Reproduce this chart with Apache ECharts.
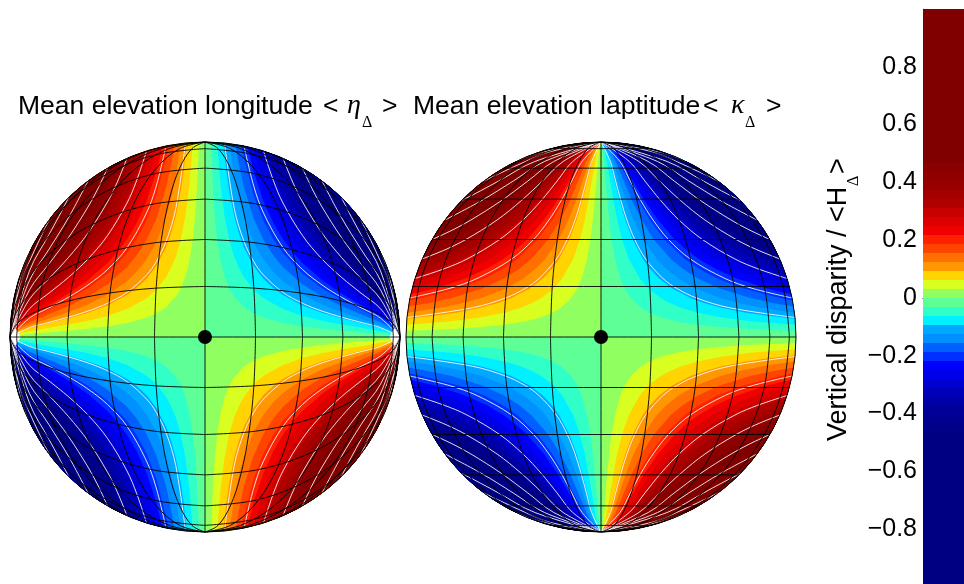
<!DOCTYPE html>
<html><head><meta charset="utf-8">
<style>html,body{margin:0;padding:0;background:#fff;overflow:hidden}#c{width:964px;height:584px}</style>
<script src="https://cdn.jsdelivr.net/npm/echarts@6/dist/echarts.min.js"></script>
</head><body><div id="c"></div>
<script>
// Colour-band edges, one quadrant of the disc, as [x, y] in disc units.
// band k starts where the field reaches k * bandStep; the first point of each edge lies on the rim.
const baseEdge = [[1,0],[0,0],[0,1]];
const edge01 = [[.9995,.03125],[.781,.04],[.624,.05],[.499,.0625],[.389,.08],[.311,.1],[.248,.125],[.206,.15],[.153,.2],[.121,.25],[.099,.3],[.072,.4],[.054,.5],[.042,.6],[.032,.7],[.023,.8],[.015,.9],[.01,.95],[0,1]];
const edge02 = [[.998,.0625],[.779,.08],[.622,.1],[.496,.125],[.412,.15],[.352,.175],[.306,.2],[.242,.25],[.199,.3],[.143,.4],[.108,.5],[.083,.6],[.064,.7],[.047,.8],[.03,.9],[.021,.95],[0,1]];
const edge03 = [[.9956,.09375],[.847,.11],[.744,.125],[.618,.15],[.528,.175],[.459,.2],[.363,.25],[.298,.3],[.251,.35],[.215,.4],[.162,.5],[.125,.6],[.096,.7],[.07,.8],[.045,.9],[.031,.95],[0,1]];
const edge04 = [[.992,.125],[.824,.15],[.704,.175],[.613,.2],[.484,.25],[.398,.3],[.335,.35],[.286,.4],[.217,.5],[.167,.6],[.128,.7],[.094,.8],[.061,.9],[.041,.95],[0,1]];
const edge05 = [[.9877,.15625],[.88,.175],[.766,.2],[.605,.25],[.497,.3],[.419,.35],[.358,.4],[.271,.5],[.208,.6],[.159,.7],[.117,.8],[.076,.9],[.051,.95],[0,1]];
const edge06 = [[.982,.1875],[.919,.2],[.726,.25],[.596,.3],[.503,.35],[.429,.4],[.325,.5],[.25,.6],[.191,.7],[.141,.8],[.091,.9],[.062,.95],[0,1]];
const edge07 = [[.976,.21875],[.847,.25],[.696,.3],[.586,.35],[.501,.4],[.434,.45],[.379,.5],[.292,.6],[.223,.7],[.164,.8],[.106,.9],[.072,.95],[0,1]];
const edge08 = [[.968,.25],[.874,.275],[.795,.3],[.67,.35],[.573,.4],[.496,.45],[.433,.5],[.333,.6],[.255,.7],[.188,.8],[.121,.9],[.082,.95],[0,1]];
const edge09 = [[.96,.28125],[.894,.3],[.754,.35],[.644,.4],[.558,.45],[.487,.5],[.375,.6],[.287,.7],[.211,.8],[.136,.9],[.093,.95],[0,1]];
const edge10 = [[.95,.3125],[.8375,.35],[.716,.4],[.62,.45],[.541,.5],[.417,.6],[.319,.7],[.234,.8],[.151,.9],[.103,.95],[0,1]];
const edge11 = [[.939,.34375],[.863,.37],[.787,.4],[.682,.45],[.595,.5],[.522,.55],[.458,.6],[.351,.7],[.258,.8],[.166,.9],[.113,.95],[0,1]];
const edge12 = [[.927,.375],[.859,.4],[.744,.45],[.65,.5],[.569,.55],[.5,.6],[.383,.7],[.281,.8],[.182,.9],[.123,.95],[0,1]];
const edge13 = [[.914,.40625],[.806,.45],[.704,.5],[.617,.55],[.542,.6],[.414,.7],[.305,.8],[.197,.9],[.134,.95],[0,1]];
const edge14 = [[.899,.4375],[.822,.47],[.758,.5],[.664,.55],[.583,.6],[.511,.65],[.446,.7],[.328,.8],[.212,.9],[.144,.95],[0,1]];
const edge15 = [[.883,.46875],[.812,.5],[.712,.55],[.625,.6],[.548,.65],[.478,.7],[.352,.8],[.227,.9],[.154,.95],[0,1]];
const bandEdges = [baseEdge,edge01,edge02,edge03,edge04,edge05,edge06,edge07,edge08,edge09,edge10,edge11,edge12,edge13,edge14,edge15];
// White contour lines (levels 0.1 to 0.9), one quadrant, as [x, y] in disc units.
const contour10 = [[.995,.1],[.659,.15],[.49,.2],[.387,.25],[.318,.3],[.229,.4],[.173,.5],[.133,.6],[.102,.7],[.075,.8],[.048,.9],[0,1]];
const contour20 = [[.98,.2],[.774,.25],[.636,.3],[.458,.4],[.346,.5],[.267,.6],[.204,.7],[.15,.8],[.097,.9],[0,1]];
const contour30 = [[.954,.3],[.804,.35],[.687,.4],[.52,.5],[.4,.6],[.306,.7],[.225,.8],[.145,.9],[0,1]];
const contour40 = [[.917,.4],[.794,.45],[.693,.5],[.533,.6],[.408,.7],[.3,.8],[.194,.9],[0,1]];
const contour50 = [[.866,.5],[.759,.55],[.667,.6],[.51,.7],[.375,.8],[.242,.9],[0,1]];
const contour60 = [[.8,.6],[.612,.7],[.45,.8],[.29,.9],[0,1]];
const contour70 = [[.714,.7],[.617,.75],[.525,.8],[.339,.9],[0,1]];
const contour80 = [[.6,.8],[.496,.85],[.387,.9],[.263,.95],[0,1]];
const contour90 = [[.436,.9],[.296,.95],[0,1]];
const contours = [contour10,contour20,contour30,contour40,contour50,contour60,contour70,contour80,contour90];
// Black graticule, one quadrant, as [x, y] in disc units.
const meridian15 = [[.259,0],[.25,.259],[.224,.5],[.183,.707],[.13,.866],[.067,.966],[0,1]];
const meridian30 = [[.5,0],[.483,.259],[.433,.5],[.354,.707],[.25,.866],[.13,.966],[0,1]];
const meridian45 = [[.707,0],[.683,.259],[.612,.5],[.5,.707],[.354,.866],[.183,.966],[0,1]];
const meridian60 = [[.866,0],[.837,.259],[.75,.5],[.612,.707],[.433,.866],[.224,.966],[0,1]];
const meridian75 = [[.966,0],[.933,.259],[.837,.5],[.683,.707],[.483,.866],[.25,.966],[0,1]];
const meridians = [meridian15,meridian30,meridian45,meridian60,meridian75];
const parallelLat = [.259,.5,.707,.866,.966];
const parallelEnd = [.966,.866,.707,.5,.259];
// Blank notch at the left disc's poles
const poleNotch = [[1,0],[.972,.045],[.945,0],[.972,-.045]];
// Colour bar
const tickValues = [-.8,-.6,-.4,-.2,0,.2,.4,.6,.8];
const bandStep = .03125;
const posColors = ['#90ff60','#d8ff20','#ffd400','#ff9800','#ff7000','#ff4400','#ff2000','#f00000','#dc0000','#c80000','#b00000','#a40000','#980000','#900000','#8a0000'];
const negColors = ['#5fff98','#30ffc8','#00f0ff','#00a8ff','#0090ff','#0060ff','#0030ff','#0000ff','#0000e8','#0000d0','#0000b8','#0000a8','#000098','#000090','#000088'];
const overPos = '#800000', overNeg = '#000082';

const pieces = [{gte:15*bandStep,color:overPos},{lt:-15*bandStep,color:overNeg}];
posColors.forEach((c,k)=>pieces.push({gte:k*bandStep,lt:(k+1)*bandStep,color:c}));
negColors.forEach((c,k)=>pieces.push({gte:-(k+1)*bandStep,lt:-k*bandStep,color:c}));

const quads=[[-1,1],[1,1],[-1,-1],[1,-1]];
// one item per band region: [quadrant sign x, quadrant sign y, band value, edge index]
const regions=[];
quads.forEach(([sx,sy])=>bandEdges.forEach((e,k)=>regions.push([sx,sy,-sx*sy*(k+.5)*bandStep,k])));
const regionRenderer=(swap)=>(params,api)=>{
  const sx=api.value(0),sy=api.value(1),edge=bandEdges[api.value(3)];
  const map=(x,y)=>api.coord(swap?[sx*y,sy*x]:[sx*x,sy*y]);
  const pts=edge.map(p=>map(p[0],p[1]));
  const a0=Math.atan2(edge[0][1],edge[0][0]);
  for(let t=1;t<=40;t++){const a=Math.PI/2+(a0-Math.PI/2)*t/40;pts.push(map(Math.cos(a),Math.sin(a)));}
  return {type:'polygon',shape:{points:pts},style:{fill:api.visual('color')}};
};
const bands=[];
for(let k=-32;k<32;k++){const m=(k+.5)*bandStep;bands.push([.5,m,m]);}
function renderBand(params,api){
  const m=api.value(1),a=api.coord([0,m+bandStep/2]),b=api.coord([1,m-bandStep/2]);
  const top=Math.round(a[1]),bot=Math.round(b[1]);
  return {type:'rect',shape:{x:a[0],y:top,width:b[0]-a[0],height:bot-top},style:{fill:api.visual('color')}};
}
function lineSeries(pts,idx,color,width,z,opacity){
  return {type:'line',xAxisIndex:idx,yAxisIndex:idx,data:pts,showSymbol:false,symbol:'none',smooth:.35,
    smoothMonotone:'none',silent:true,animation:false,z:z,clip:true,lineStyle:{color:color,width:width,opacity:opacity||1}};
}
const series=[
 {type:'custom',xAxisIndex:0,yAxisIndex:0,data:regions,encode:{x:0,y:1},renderItem:regionRenderer(true),silent:true,animation:false,z:1},
 {type:'custom',xAxisIndex:1,yAxisIndex:1,data:regions,encode:{x:0,y:1},renderItem:regionRenderer(false),silent:true,animation:false,z:1},
 {type:'custom',xAxisIndex:2,yAxisIndex:2,data:bands,encode:{x:0,y:1},renderItem:renderBand,clip:true,silent:true,animation:false,z:1},
 {type:'custom',xAxisIndex:0,yAxisIndex:0,data:[[1,0],[-1,0]],encode:{x:0,y:1},silent:true,animation:false,z:2,
   renderItem:(p,api)=>({type:'polygon',shape:{points:poleNotch.map(q=>api.coord([api.value(0)*q[0],q[1]]))},style:{fill:'#fff'}})}
];
[0,1].forEach(d=>{
  const place=(p,q)=> d===0?[q[0]*p[1],q[1]*p[0]]:[q[0]*p[0],q[1]*p[1]];
  contours.forEach(c=>quads.forEach(q=>series.push(lineSeries(c.map(p=>place(p,q)),d,'#ffffff',1,3,.85))));
  meridians.forEach(c=>quads.forEach(q=>{
    series.push(lineSeries(c.map(p=>[q[0]*p[0],q[1]*p[1]]),d,'#000000',.9,4));
    if(d===0) series.push(lineSeries(c.map(p=>[q[0]*p[1],q[1]*p[0]]),d,'#000000',.9,4));
  }));
  if(d===1) parallelLat.forEach((y,i)=>[1,-1].forEach(s=>series.push(lineSeries([[-parallelEnd[i],s*y],[parallelEnd[i],s*y]],d,'#000000',.9,4))));
  series.push(lineSeries([[-1,0],[1,0]],d,'#000000',.9,4));
  series.push(lineSeries([[0,-1],[0,1]],d,'#000000',.9,4));
  series.push({type:'custom',xAxisIndex:d,yAxisIndex:d,data:[[0,0]],encode:{x:0,y:1},silent:true,animation:false,z:5,clip:false,
    renderItem:(p,api)=>{const c=api.coord([0,0]),s=api.size([1,1]);
      return {type:'circle',shape:{cx:c[0],cy:c[1],r:s[0]},style:{fill:'none',stroke:'#000',lineWidth:1}};}});
  series.push({type:'scatter',xAxisIndex:d,yAxisIndex:d,data:[[0,0]],symbolSize:14,itemStyle:{color:'#000',opacity:1},silent:true,animation:false,z:6});
});
const hidden=(i)=>({gridIndex:i,type:'value',min:-1,max:1,show:false});
const sans='"Liberation Sans",Arial,sans-serif', serif='"Liberation Serif",serif';
const txt=(t,x,y,size,font,extra)=>Object.assign({type:'text',x:x,y:y,silent:true,z:20,
   style:{text:t,fill:'#000',font:(extra&&extra.fs||'')+' '+size+'px '+font,align:'left',verticalAlign:'bottom'}},extra&&extra.el||{});
const up={el:{rotation:Math.PI/2}};
const chart=echarts.init(document.getElementById('c'),null,{renderer:'canvas'});
chart.setOption({
 animation:false,backgroundColor:'#fff',
 grid:[{left:10,top:142,width:390,height:390},{left:406,top:142,width:390,height:390},{left:923,top:9,width:41,height:575}],
 xAxis:[hidden(0),hidden(1),{gridIndex:2,type:'value',min:0,max:1,position:'top',axisLine:{show:true,lineStyle:{color:'#000',width:1}},axisTick:{show:false},axisLabel:{show:false},splitLine:{show:false}}],
 yAxis:[hidden(0),hidden(1),{gridIndex:2,type:'value',min:-.99,max:1,position:'left',
   axisLine:{show:true,lineStyle:{color:'#999',width:1}},
   axisTick:{show:true,inside:true,length:5,customValues:tickValues,lineStyle:{color:'#000',width:1}},
   axisLabel:{show:true,customValues:tickValues,margin:6,fontSize:25,fontFamily:sans,color:'#000',formatter:v=>{const r=Math.round(v*10)/10;return r===0?'0':String(r).replace('-','\u2212');}},
   splitLine:{show:false}}],
 visualMap:[{type:'piecewise',show:false,seriesIndex:[0,1,2],dimension:2,pieces:pieces}],
 graphic:{elements:[
   txt('Mean elevation longitude',18,120,26.5,sans),
   txt('<',323,120,26.5,sans),
   txt('\u03b7',347,120,28,serif,{fs:'italic'}),
   txt('\u0394',362,131,16,serif),
   txt('>',382,120,26.5,sans),
   txt('Mean elevation laptitude',413,120,26.5,sans),
   txt('<',703,120,26.5,sans),
   txt('\u03ba',731,120,28,serif,{fs:'italic'}),
   txt('\u0394',745,131,16,serif),
   txt('>',766,120,26.5,sans),
   txt('Vertical disparity / <H',852,441,27,sans,up),
   txt('\u0394',862,186,16,serif,up),
   txt('>',852,174,27,sans,up)
 ]},
 series:series
});
</script></body></html>
